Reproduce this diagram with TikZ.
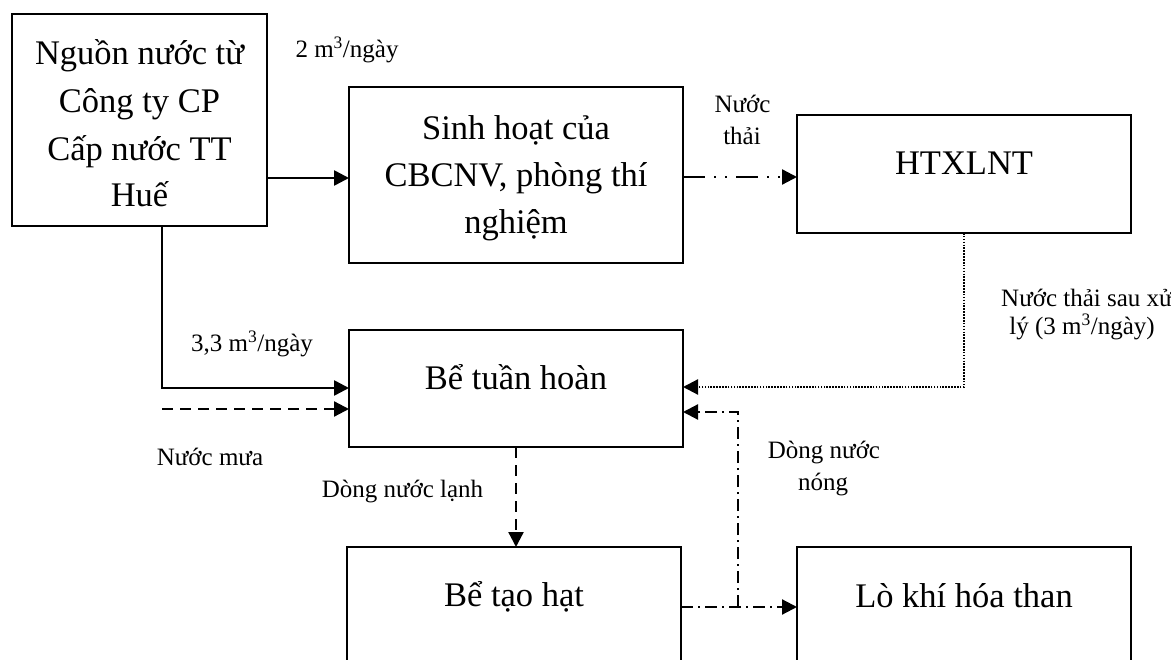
\documentclass[tikz,border=0pt]{standalone}
\usepackage{fontspec}
\setmainfont{Liberation Serif}
\usetikzlibrary{arrows.meta}

\begin{document}
\begin{tikzpicture}[x=1pt,y=-1pt,
  box/.style={draw, line width=2pt, inner sep=0pt, outer sep=0pt, anchor=north west},
  big/.style={anchor=base, inner sep=0pt, font=\fontsize{34.5}{40}\selectfont},
  small/.style={anchor=base, inner sep=0pt, font=\fontsize{25}{28}\selectfont},
  tip/.style={-{Triangle[length=15pt,width=15pt]}},
  solidflow/.style={tip, line width=2.6pt},
  dashflow/.style={tip, line width=2.3pt, dash pattern=on 11pt off 7pt},
  dotflow/.style={tip, line width=2.2pt, dash pattern=on 1.6pt off 1.3pt},
  dashdotflow/.style={tip, line width=2.2pt, dash pattern=on 12pt off 5pt on 2pt off 5pt},
  ddotflow/.style={tip, line width=2.3pt, dash pattern=on 22pt off 9pt on 2pt off 9pt on 2pt off 9pt},
]
\useasboundingbox (0,0) rectangle (1171,660);
\clip (0,0) rectangle (1171,660);

% process boxes
\node[box, minimum width=255pt, minimum height=212pt] (src) at (12,14) {};
\node[box, minimum width=334pt, minimum height=176pt] (sinh) at (349,87) {};
\node[box, minimum width=334pt, minimum height=118pt] (ht) at (797,115) {};
\node[box, minimum width=334pt, minimum height=117pt] (tuan) at (349,330) {};
\node[box, minimum width=334pt, minimum height=140pt] (taohat) at (347,547) {};
\node[box, minimum width=334pt, minimum height=140pt] (lo) at (797,547) {};

% box texts
\node[big] (src1) at (139.5,65) {Nguồn nước từ};
\node[big] (src2) at (139.5,112.7) {Công ty CP};
\node[big] (src3) at (139.5,160.7) {Cấp nước TT};
\node[big] (src4) at (139.5,206.7) {Huế};
\node[big] (sinh1) at (516,140) {Sinh hoạt của};
\node[big] (sinh2) at (516,187) {CBCNV, phòng thí};
\node[big] (sinh3) at (516,234) {nghiệm};
\node[big] (htt) at (964,175) {HTXLNT};
\node[big] (tuant) at (516,390) {Bể tuần hoàn};
\node[big] (taohatt) at (514,606) {Bể tạo hạt};
\node[big] (lot) at (964,607) {Lò khí hóa than};

% flow labels
\node[small] (l2m) at (347,58) {2 m\textsuperscript{3}/ngày};
\node[small] (lnt1) at (742.5,113) {Nước};
\node[small] (lnt2) at (742,145) {thải};
\node[small] (lxl1) at (1087,307) {Nước thải sau xử};
\node[small] (lxl2) at (1082,335) {lý (3 m\textsuperscript{3}/ngày)};
\node[small] (l33) at (252,352) {3,3 m\textsuperscript{3}/ngày};
\node[small] (lmua) at (210,465) {Nước mưa};
\node[small] (llanh) at (402.5,497) {Dòng nước lạnh};
\node[small] (lnong1) at (824,458) {Dòng nước};
\node[small] (lnong2) at (823,490) {nóng};

% helper points for connector levels
\coordinate (ysrc) at (0,178);
\coordinate (ywaste) at (0,177);
\coordinate (drop) at (162,388);
\coordinate (rain) at (162,409);
\coordinate (yback) at (0,387);
\coordinate (yhot) at (0,607);
\coordinate (split) at (738,607);
\coordinate (turn) at (738,412);

% connectors
\draw[solidflow] (src.east |- ysrc) -- (sinh.west |- ysrc);
\draw[solidflow] (src.south -| drop) -- (drop) -- (tuan.west |- drop);
\draw[dashflow] (rain) -- (tuan.west |- rain);
\draw[ddotflow] (sinh.east |- ywaste) -- (ht.west |- ywaste);
\draw[dotflow] (ht.south) -- (ht.south |- yback) -- (tuan.east |- yback);
\draw[dashflow] (tuan.south) -- (taohat.north -| tuan.south);
\draw[dashdotflow] (taohat.east |- yhot) -- (lo.west |- yhot);
\draw[dashdotflow] (split) -- (turn) -- (tuan.east |- turn);
\end{tikzpicture}
\end{document}
